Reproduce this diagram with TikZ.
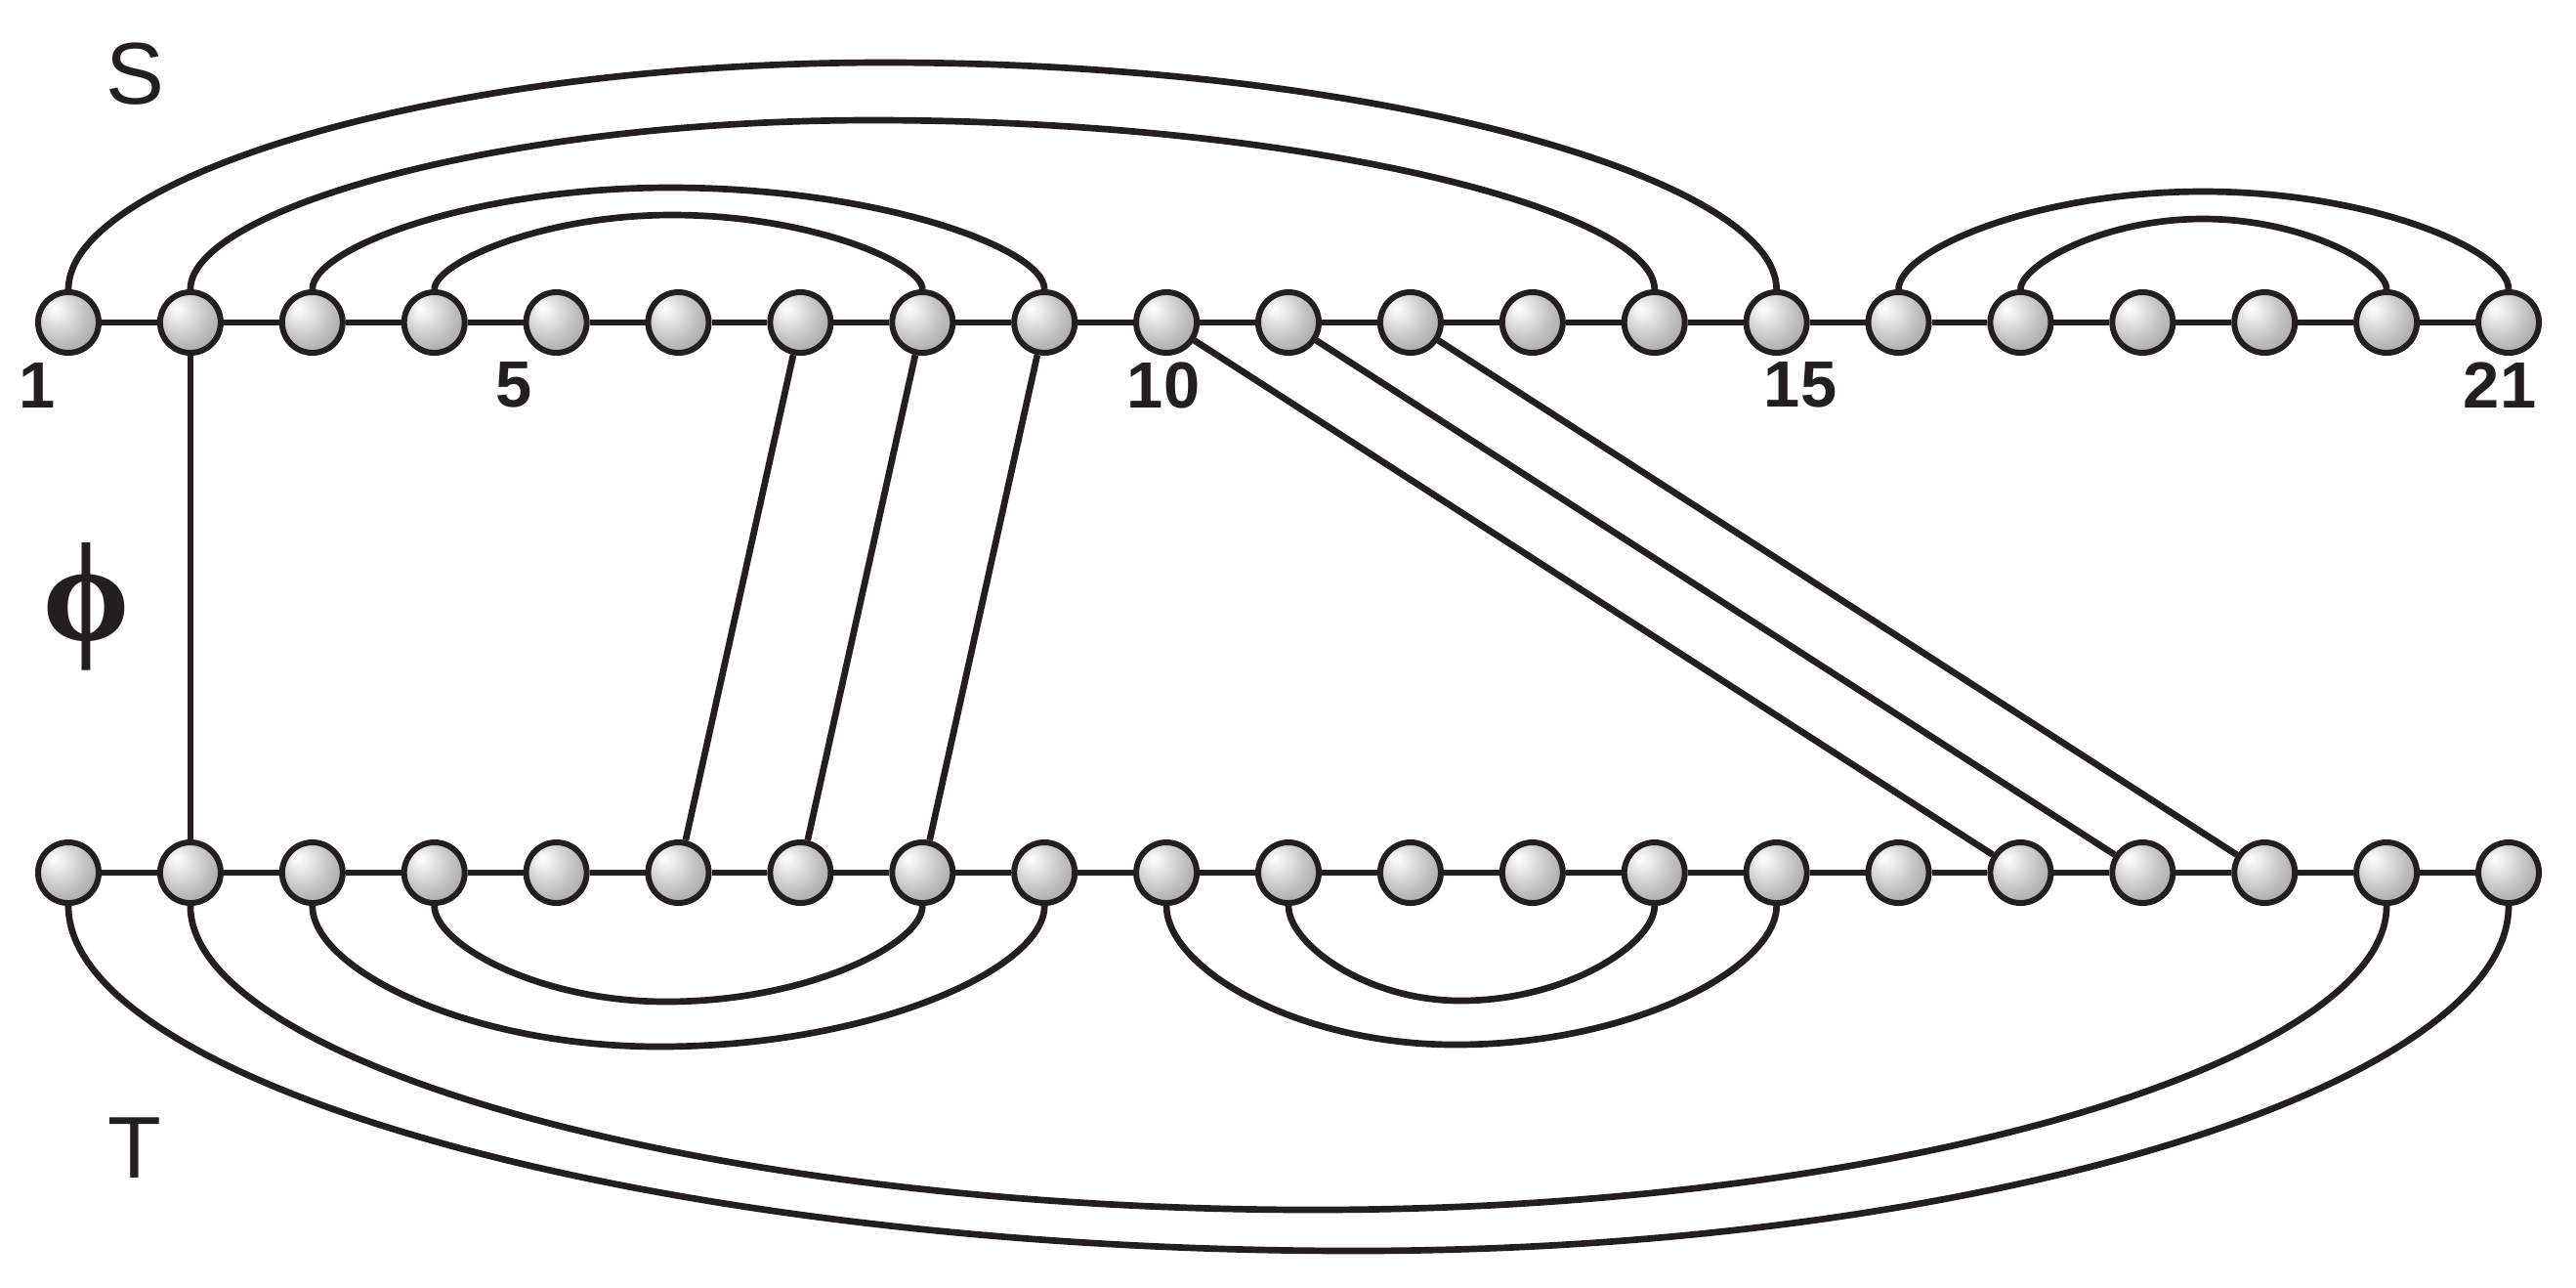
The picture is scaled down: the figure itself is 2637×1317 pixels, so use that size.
\documentclass[tikz,border=0pt]{standalone}
\usepackage{fontspec}
\setmainfont{Liberation Sans}
\newfontfamily\phifont{Liberation Serif}
\definecolor{ink}{RGB}{35,31,32}
\pgfdeclareradialshading{nodeball}{\pgfpoint{-12bp}{12bp}}{color(0bp)=(white); color(6bp)=(black!6); color(22bp)=(black!24); color(40bp)=(black!40); color(62bp)=(black!52)}
\newcommand\mkarc[8]{% #1 start node, #2 end node, #3 xa, #4 xb, #5 xp, #6 yp, #7 row y, #8 name
  \coordinate (#8) at (#5,#6);
  \draw[arcline] (#1) .. controls ({#3},{#7-0.552*(#7-#6)}) and ({#5-0.552*(#5-#3)},#6) .. (#8)
     .. controls ({#5+0.552*(#4-#5)},#6) and ({#4},{#7-0.552*(#7-#6)}) .. (#2);
}
\begin{document}
\begin{tikzpicture}[x=0.01cm,y=-0.01cm,
  bead/.style={circle, draw=ink, line width=1.7pt, minimum size=0.62cm, inner sep=0pt, shading=nodeball},
  chain/.style={draw=ink, line width=1.6pt},
  arcline/.style={draw=ink, line width=1.9pt},
  link/.style={draw=ink, line width=1.9pt},
  num/.style={inner sep=0pt, text=ink, font=\bfseries\fontsize{19}{19}\selectfont},
  setlab/.style={inner sep=0pt, text=ink, font=\fontsize{25.5}{25.5}\selectfont}]
\fill[white] (0,0) rectangle (2637,1317);
\useasboundingbox (0,0) rectangle (2637,1317);
% beads
\foreach \i in {1,...,21} {
  \node[bead] (t\i) at ({70+124.9*(\i-1)},330) {};
  \node[bead] (b\i) at ({70+124.9*(\i-1)},893) {};
}
% chains
\foreach \i [evaluate=\i as \j using int(\i+1)] in {1,...,20} {
  \draw[chain] (t\i) -- (t\j);
  \draw[chain] (b\i) -- (b\j);
}
% top arcs
\mkarc{t1}{t15}{70}{1818.6}{905}{64}{330}{ptA}
\mkarc{t2}{t14}{194.9}{1693.7}{893}{123}{330}{ptB}
\mkarc{t3}{t9}{319.8}{1069.2}{686}{192}{330}{ptC}
\mkarc{t4}{t8}{444.7}{944.3}{688}{220}{330}{ptD}
\mkarc{t16}{t21}{1943.5}{2568}{2255}{196}{330}{ptE}
\mkarc{t17}{t20}{2068.4}{2443.1}{2255}{224}{330}{ptF}
% bottom arcs
\mkarc{b4}{b8}{444.7}{944.3}{682}{1025}{893}{pbA}
\mkarc{b3}{b9}{319.8}{1069.2}{675}{1071}{893}{pbB}
\mkarc{b11}{b14}{1319}{1693.7}{1495}{1024}{893}{pbC}
\mkarc{b10}{b15}{1194.1}{1818.6}{1490}{1069}{893}{pbD}
\mkarc{b2}{b20}{194.9}{2443.1}{1345}{1238}{893}{pbE}
\mkarc{b1}{b21}{70}{2568}{1387}{1280}{893}{pbF}
% links between strands
\draw[link] (t2) -- (b2);
\draw[link] (t7) -- (b6);
\draw[link] (t8) -- (b7);
\draw[link] (t9) -- (b8);
\draw[link] (t10) -- (b17);
\draw[link] (t11) -- (b18);
\draw[link] (t12) -- (b19);
% labels
\node[num] (n1) at (38,394) {1};
\node[num] (n5) at (526,394) {5};
\node[num] (n10) at (1191,394) {10};
\node[num] (n15) at (1843,394) {15};
\node[num] (n21) at (2559,394) {21};
\node[setlab] (S) at (138,76) {S};
\node[setlab] (T) at (138,1175) {T};
\node[inner sep=0pt, text=ink, font=\phifont\bfseries\fontsize{41}{41}\selectfont] (phi) at (88,621) {ϕ};
\end{tikzpicture}
\end{document}
